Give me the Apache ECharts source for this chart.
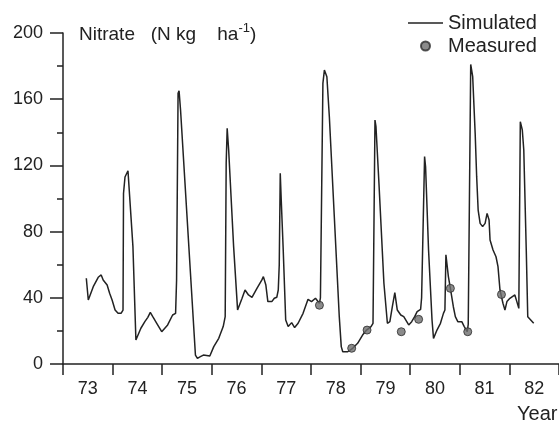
<!DOCTYPE html>
<html>
<head>
<meta charset="utf-8">
<script src="https://cdn.jsdelivr.net/npm/echarts@6/dist/echarts.min.js"></script>
<style>
  html, body { margin: 0; padding: 0; background: #fff; }
  #chart { width: 559px; height: 423px; }
</style>
</head>
<body>
<div id="chart"></div>
<script>
// Year labels (bands of the time axis)
const yearLabels = ['73', '74', '75', '76', '77', '78', '79', '80', '81', '82'];

// Simulated soil nitrate: time (year, 19xx) and N (kg/ha)
const simTime = [
  73.47, 73.51, 73.61, 73.71, 73.77, 73.81, 73.89, 73.94, 73.99, 74.03,
  74.05, 74.11, 74.17, 74.21, 74.22, 74.25, 74.31, 74.35, 74.41, 74.47,
  74.51, 74.57, 74.65, 74.71, 74.76, 74.81, 74.84, 74.89, 74.99, 75.11,
  75.21, 75.27, 75.29, 75.32, 75.34, 75.37, 75.67, 75.71, 75.77, 75.83,
  75.87, 75.96, 76.04, 76.14, 76.23, 76.27, 76.29, 76.31, 76.34, 76.44,
  76.52, 76.61, 76.67, 76.74, 76.81, 76.91, 77.01, 77.04, 77.09, 77.13,
  77.21, 77.26, 77.31, 77.34, 77.36, 77.38, 77.40, 77.44, 77.49, 77.54,
  77.61, 77.67, 77.74, 77.84, 77.94, 78.01, 78.09, 78.13, 78.17, 78.19,
  78.24, 78.27, 78.32, 78.37, 78.47, 78.57, 78.61, 78.64, 78.74, 78.84,
  78.94, 79.04, 79.12, 79.21, 79.25, 79.29, 79.31, 79.37, 79.47, 79.54,
  79.59, 79.64, 79.69, 79.74, 79.81, 79.87, 79.90, 79.97, 80.03, 80.09,
  80.14, 80.21, 80.23, 80.29, 80.31, 80.37, 80.44, 80.47, 80.54, 80.61,
  80.67, 80.70, 80.72, 80.74, 80.77, 80.81, 80.87, 80.91, 80.96, 81.00,
  81.04, 81.09, 81.15, 81.17, 81.22, 81.26, 81.31, 81.34, 81.37, 81.41,
  81.46, 81.51, 81.55, 81.59, 81.61, 81.67, 81.73, 81.77, 81.81, 81.87,
  81.91, 81.95, 82.01, 82.06, 82.11, 82.15, 82.19, 82.22, 82.26, 82.29,
  82.34, 82.37, 82.49
];
const simNitrate = [
  51.8, 38.7, 46.7, 52.4, 53.8, 50.8, 47.7, 42.7, 38.7, 37.7,
  32.6, 30.6, 30.6, 32.6, 103, 113, 116.8, 118, 70.9, 14.5,
  15.5, 21.6, 25.6, 28.2, 31.2, 28.6, 28.6, 24.6, 19.5, 23.6,
  29.6, 30.6, 50.8, 163.6, 165.1, 153.5, 5.4, 3.4, 4.4, 5.4,
  4.4, 4.8, 10.5, 15.5, 22.6, 28.6, 121.3, 142.4, 129.3, 70.9,
  32.6, 39.7, 44.7, 41.7, 40.3, 45.7, 50.8, 52.8, 47.7, 37.7,
  37.7, 39.7, 40.3, 44.7, 60, 115.2, 99.1, 68.9, 26.6, 22.6,
  25, 22, 24.6, 30.6, 39.1, 37.7, 39.7, 40.7, 36.7, 40,
  169.6, 177.6, 173.6, 149.4, 89, 28.6, 10.5, 7.4, 7.4, 9.5,
  12.5, 17.5, 20.5, 22.6, 24.6, 147.4, 143.4, 109.2, 48.8, 24.6,
  25.6, 34.6, 43.1, 32.6, 29.6, 28.6, 28, 23.6, 25.6, 28.6,
  31.6, 33, 40, 125.3, 119.2, 68.9, 26.6, 15.5, 20.5, 24.6,
  30.6, 32.6, 66, 64.8, 52.8, 45.7, 34.6, 28.6, 25.6, 24.6,
  25.6, 22.6, 19.5, 24, 181, 173.6, 139.3, 113.2, 93, 85,
  83, 85, 91, 87, 74.9, 68.9, 64.8, 58.8, 44.7, 36.7,
  32.6, 37.7, 39.7, 40.7, 41.7, 37.7, 33.6, 146.4, 141.4, 129.3,
  68.9, 28.6, 24.6
];

// Measured soil nitrate
const measTime = [78.17, 78.82, 79.13, 79.82, 80.17, 80.81, 81.16, 81.84];
const measNitrate = [35.5, 9.5, 20.5, 19.5, 27, 45.7, 19.5, 42];

// Y axis ticks
const yMin = 0, yMax = 200, yStep = 40;

const ink = '#222';
const font = '"Liberation Sans", Arial, sans-serif';

const chart = echarts.init(document.getElementById('chart'), null, { renderer: 'canvas' });

chart.setOption({
  animation: false,
  backgroundColor: '#fff',
  textStyle: { fontFamily: font, color: ink },
  grid: { left: 63, top: 33, width: 500, height: 331, containLabel: false },
  legend: {
    orient: 'vertical',
    left: 408,
    top: 13,
    padding: 0,
    itemWidth: 35,
    itemHeight: 9,
    itemGap: 3,
    symbolKeepAspect: true,
    textStyle: { fontFamily: font, fontSize: 20, color: ink },
    data: [
      { name: 'Simulated', icon: 'path://M0,0L35,0L35,1.4L0,1.4Z', itemStyle: { color: ink, borderWidth: 0 } },
      { name: 'Measured', icon: 'circle' }
    ]
  },
  xAxis: [
    {
      type: 'value',
      min: 73,
      max: 83,
      interval: 1,
      axisLine: { show: true, lineStyle: { color: ink, width: 1.5 } },
      axisTick: { show: true, length: 11, lineStyle: { color: ink, width: 1.5 } },
      axisLabel: { show: false },
      splitLine: { show: false }
    },
    {
      type: 'category',
      data: yearLabels,
      position: 'bottom',
      boundaryGap: true,
      axisLine: { show: false },
      axisTick: { show: false },
      axisLabel: { show: true, margin: 16, fontSize: 18, color: ink, fontFamily: font },
      splitLine: { show: false }
    }
  ],
  yAxis: {
    type: 'value',
    min: yMin,
    max: yMax,
    interval: yStep,
    axisLine: { show: true, lineStyle: { color: ink, width: 1.5 } },
    axisTick: { show: true, length: 13, lineStyle: { color: ink, width: 1.5 } },
    minorTick: { show: true, splitNumber: 2, length: 6, lineStyle: { color: ink, width: 1.5 } },
    axisLabel: { margin: 20, fontSize: 18, color: ink, fontFamily: font },
    splitLine: { show: false }
  },
  graphic: [
    {
      type: 'text',
      left: 79,
      top: 22,
      style: {
        text: '{t|Nitrate   (N kg    ha}{s|-1}{t|)}',
        rich: {
          t: { fontFamily: font, fontSize: 19, fill: ink, verticalAlign: 'bottom', lineHeight: 22 },
          s: { fontFamily: font, fontSize: 13, fill: ink, verticalAlign: 'top', lineHeight: 22 }
        }
      }
    },
    {
      type: 'text',
      left: 517,
      top: 404,
      style: { text: 'Year', fontFamily: font, fontSize: 20, fill: ink }
    }
  ],
  series: [
    {
      name: 'Simulated',
      type: 'line',
      xAxisIndex: 0,
      data: simTime.map((t, i) => [t, simNitrate[i]]),
      showSymbol: false,
      symbol: 'none',
      lineStyle: { color: ink, width: 1.5 },
      itemStyle: { color: ink },
      z: 2
    },
    {
      name: 'Measured',
      type: 'scatter',
      xAxisIndex: 0,
      data: measTime.map((t, i) => [t, measNitrate[i]]),
      symbol: 'circle',
      symbolSize: 8,
      itemStyle: { color: '#6e6e6e', borderColor: '#2a2a2a', borderWidth: 1 },
      z: 3
    }
  ]
});
</script>
</body>
</html>
